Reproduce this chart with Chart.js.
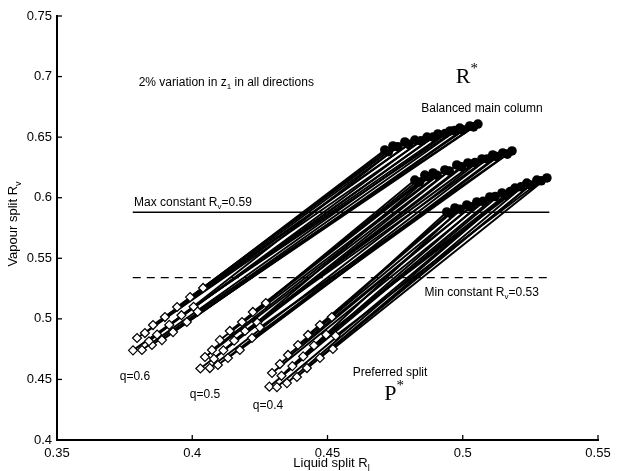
<!DOCTYPE html>
<html>
<head>
<meta charset="utf-8">
<script src="https://cdn.jsdelivr.net/npm/chart.js@4/dist/chart.umd.min.js"></script>
<style>
  body { margin: 0; background: #fff; }
  #wrap { width: 621px; height: 471px; }
</style>
</head>
<body>
<div id="wrap"><canvas id="splitChart"></canvas></div>
<script>
// axis ticks
const xTicks = [0.35, 0.4, 0.45, 0.5, 0.55];
const yTicks = [0.4, 0.45, 0.5, 0.55, 0.6, 0.65, 0.7, 0.75];

// q=0.6 : preferred split (diamonds) -> balanced main column (circles), paired by index
const q06DiamondX = [0.4040, 0.3992, 0.3944, 0.3899, 0.3855, 0.3825, 0.3796, 0.3781, 0.3814, 0.3851, 0.3888, 0.3929, 0.3980,
                     0.3840, 0.3870, 0.3915, 0.3960, 0.4005, 0.4020];
const q06DiamondY = [0.5255, 0.5180, 0.5098, 0.5015, 0.4949, 0.4883, 0.4842, 0.4740, 0.4743, 0.4784, 0.4825, 0.4891, 0.4974,
                     0.4815, 0.4870, 0.4950, 0.5030, 0.5100, 0.5060];
const q06CircleX = [0.4712, 0.4725, 0.4742, 0.4786, 0.4800, 0.4823, 0.4868, 0.4908, 0.4953, 0.4989, 0.5000, 0.5026, 0.5056,
                    0.4760, 0.4845, 0.4890, 0.4935, 0.4970, 0.5040];
const q06CircleY = [0.6394, 0.6380, 0.6427, 0.6460, 0.6440, 0.6476, 0.6501, 0.6526, 0.6551, 0.6575, 0.6560, 0.6592, 0.6608,
                    0.6420, 0.6470, 0.6500, 0.6530, 0.6555, 0.6585];

// q=0.5
const q05DiamondX = [0.4272, 0.4224, 0.4184, 0.4139, 0.4102, 0.4073, 0.4047, 0.4030, 0.4065, 0.4095, 0.4132, 0.4176, 0.4221,
                     0.4080, 0.4115, 0.4155, 0.4195, 0.4240, 0.4250];
const q05DiamondY = [0.5131, 0.5057, 0.4974, 0.4900, 0.4825, 0.4743, 0.4685, 0.4590, 0.4594, 0.4619, 0.4677, 0.4743, 0.4842,
                     0.4670, 0.4740, 0.4820, 0.4900, 0.4970, 0.4930];
const q05CircleX = [0.4823, 0.4840, 0.4860, 0.4890, 0.4905, 0.4934, 0.4978, 0.5019, 0.5071, 0.5111, 0.5125, 0.5148, 0.5182,
                    0.4875, 0.4950, 0.4995, 0.5045, 0.5090, 0.5165];
const q05CircleY = [0.6146, 0.6130, 0.6187, 0.6204, 0.6185, 0.6229, 0.6270, 0.6287, 0.6320, 0.6353, 0.6340, 0.6369, 0.6386,
                    0.6170, 0.6220, 0.6255, 0.6290, 0.6320, 0.6360];

// q=0.4
const q04DiamondX = [0.4516, 0.4472, 0.4428, 0.4391, 0.4354, 0.4324, 0.4295, 0.4285, 0.4313, 0.4350, 0.4387, 0.4424, 0.4472, 0.4520,
                     0.4330, 0.4370, 0.4410, 0.4450, 0.4495, 0.4530];
const q04DiamondY = [0.5015, 0.4949, 0.4867, 0.4784, 0.4702, 0.4627, 0.4553, 0.4440, 0.4437, 0.4470, 0.4520, 0.4594, 0.4677, 0.4751,
                     0.4530, 0.4610, 0.4690, 0.4780, 0.4870, 0.4860];
const q04CircleX = [0.4941, 0.4955, 0.4971, 0.5015, 0.5030, 0.5052, 0.5100, 0.5145, 0.5160, 0.5193, 0.5237, 0.5250, 0.5274, 0.5311,
                    0.4990, 0.5075, 0.5120, 0.5175, 0.5215, 0.5290];
const q04CircleY = [0.5882, 0.5870, 0.5915, 0.5940, 0.5925, 0.5965, 0.6006, 0.6039, 0.6020, 0.6080, 0.6121, 0.6105, 0.6146, 0.6163,
                    0.5905, 0.5970, 0.6010, 0.6050, 0.6090, 0.6140];

// constant Rv limits
const maxRv = 0.588;
const minRv = 0.534;
const limitX = [0.378, 0.532];

const groups = [
  { dx: q06DiamondX, dy: q06DiamondY, cx: q06CircleX, cy: q06CircleY },
  { dx: q05DiamondX, dy: q05DiamondY, cx: q05CircleX, cy: q05CircleY },
  { dx: q04DiamondX, dy: q04DiamondY, cx: q04CircleX, cy: q04CircleY }
];

const datasets = [];
groups.forEach(g => {
  g.dx.forEach((x, i) => {
    datasets.push({
      data: [{ x: x, y: g.dy[i] }, { x: g.cx[i], y: g.cy[i] }],
      showLine: true, borderColor: '#000', borderWidth: 2,
      pointRadius: 0, order: 3
    });
  });
});
groups.forEach(g => {
  datasets.push({
    data: g.dx.map((x, i) => ({ x: x, y: g.dy[i] })),
    pointStyle: 'rectRot', pointRadius: 4.5, borderWidth: 1.2,
    borderColor: '#000', backgroundColor: '#fff', order: 1
  });
  datasets.push({
    data: g.cx.map((x, i) => ({ x: x, y: g.cy[i] })),
    pointStyle: 'circle', pointRadius: 4.8, borderWidth: 0,
    borderColor: '#000', backgroundColor: '#000', order: 1
  });
});
datasets.push({
  data: limitX.map(x => ({ x: x, y: maxRv })),
  showLine: true, borderColor: '#000', borderWidth: 1.3, pointRadius: 0, order: 2
});
datasets.push({
  data: limitX.map(x => ({ x: x, y: minRv })),
  showLine: true, borderColor: '#000', borderWidth: 1.3, borderDash: [8, 6], pointRadius: 0, order: 2
});

// text with sub/superscript parts: [text, 'n'|'sub'|'sup']
function richText(ctx, parts, x, y, size, family, align) {
  const fontFor = m => (m === 'n' ? size : Math.round(size * 0.7)) + 'px ' + family;
  let total = 0;
  parts.forEach(p => { ctx.font = fontFor(p[1]); total += ctx.measureText(p[0]).width; });
  let cx = align === 'center' ? x - total / 2 : x;
  ctx.textAlign = 'left';
  ctx.textBaseline = 'alphabetic';
  parts.forEach(p => {
    ctx.font = fontFor(p[1]);
    let dy = 0;
    if (p[1] === 'sub') dy = size * 0.3;
    if (p[1] === 'sup') dy = -size * 0.45;
    ctx.fillText(p[0], cx, y + dy);
    cx += ctx.measureText(p[0]).width;
  });
}

const sans = '"Liberation Sans", Arial, sans-serif';
const serif = '"Liberation Serif", "Times New Roman", serif';

const decorPlugin = {
  id: 'decor',
  afterDraw(chart) {
    const ctx = chart.ctx;
    const xs = chart.scales.x, ys = chart.scales.y;
    const a = chart.chartArea;
    ctx.save();
    ctx.strokeStyle = '#000';
    ctx.fillStyle = '#000';
    ctx.lineWidth = 1.3;
    // inward tick marks
    xTicks.forEach(v => {
      const px = xs.getPixelForValue(v);
      ctx.beginPath(); ctx.moveTo(px, a.bottom); ctx.lineTo(px, a.bottom - 5); ctx.stroke();
    });
    yTicks.forEach(v => {
      const py = ys.getPixelForValue(v);
      ctx.beginPath(); ctx.moveTo(a.left, py); ctx.lineTo(a.left + 5, py); ctx.stroke();
    });
    // axis titles
    richText(ctx, [['Liquid split R', 'n'], ['l', 'sub']], (a.left + a.right) / 2 + 4, 467, 13, sans, 'center');
    ctx.save();
    ctx.translate(17, (a.top + a.bottom) / 2 - 4);
    ctx.rotate(-Math.PI / 2);
    richText(ctx, [['Vapour split R', 'n'], ['v', 'sub']], 0, 0, 13, sans, 'center');
    ctx.restore();
    // annotations
    const X = v => xs.getPixelForValue(v), Y = v => ys.getPixelForValue(v);
    richText(ctx, [['2% variation in z', 'n'], ['1', 'sub'], [' in all directions', 'n']], X(0.3802), Y(0.6925), 12, sans, 'left');
    richText(ctx, [['R', 'n'], ['*', 'sup']], X(0.5015), Y(0.6945), 22, serif, 'center');
    richText(ctx, [['Balanced main column', 'n']], X(0.5071), Y(0.6708), 12, sans, 'center');
    richText(ctx, [['Max constant R', 'n'], ['v', 'sub'], ['=0.59', 'n']], X(0.3785), Y(0.5935), 12, sans, 'left');
    richText(ctx, [['Min constant R', 'n'], ['v', 'sub'], ['=0.53', 'n']], X(0.5070), Y(0.5190), 12, sans, 'center');
    richText(ctx, [['Preferred split', 'n']], X(0.4731), Y(0.4528), 12, sans, 'center');
    richText(ctx, [['P', 'n'], ['*', 'sup']], X(0.4746), Y(0.4330), 22, serif, 'center');
    richText(ctx, [['q=0.6', 'n']], X(0.3788), Y(0.4495), 12, sans, 'center');
    richText(ctx, [['q=0.5', 'n']], X(0.4047), Y(0.4347), 12, sans, 'center');
    richText(ctx, [['q=0.4', 'n']], X(0.4280), Y(0.4256), 12, sans, 'center');
    ctx.restore();
  }
};

const tickFont = { family: sans, size: 13 };

const ctx = document.getElementById('splitChart').getContext('2d');
const splitChart = new Chart(ctx, {
  type: 'scatter',
  data: { datasets: datasets },
  options: {
    responsive: true,
    maintainAspectRatio: false,
    animation: false,
    layout: { padding: { left: 0, top: 16, right: 23, bottom: 0 } },
    plugins: { legend: { display: false }, tooltip: { enabled: false } },
    scales: {
      x: {
        type: 'linear', min: 0.35, max: 0.55,
        afterBuildTicks: s => { s.ticks = xTicks.map(v => ({ value: v })); },
        afterFit: s => { s.height = 31; },
        ticks: { color: '#000', font: tickFont, padding: 6, maxRotation: 0, callback: v => String(+v.toFixed(2)) },
        grid: { display: false, drawTicks: false },
        border: { display: true, color: '#000', width: 2 }
      },
      y: {
        type: 'linear', min: 0.4, max: 0.75,
        afterBuildTicks: s => { s.ticks = yTicks.map(v => ({ value: v })); },
        afterFit: s => { s.width = 57; },
        ticks: { color: '#000', font: tickFont, padding: 5, callback: v => String(+v.toFixed(2)) },
        grid: { display: false, drawTicks: false },
        border: { display: true, color: '#000', width: 2 }
      }
    }
  },
  plugins: [decorPlugin]
});
</script>
</body>
</html>
